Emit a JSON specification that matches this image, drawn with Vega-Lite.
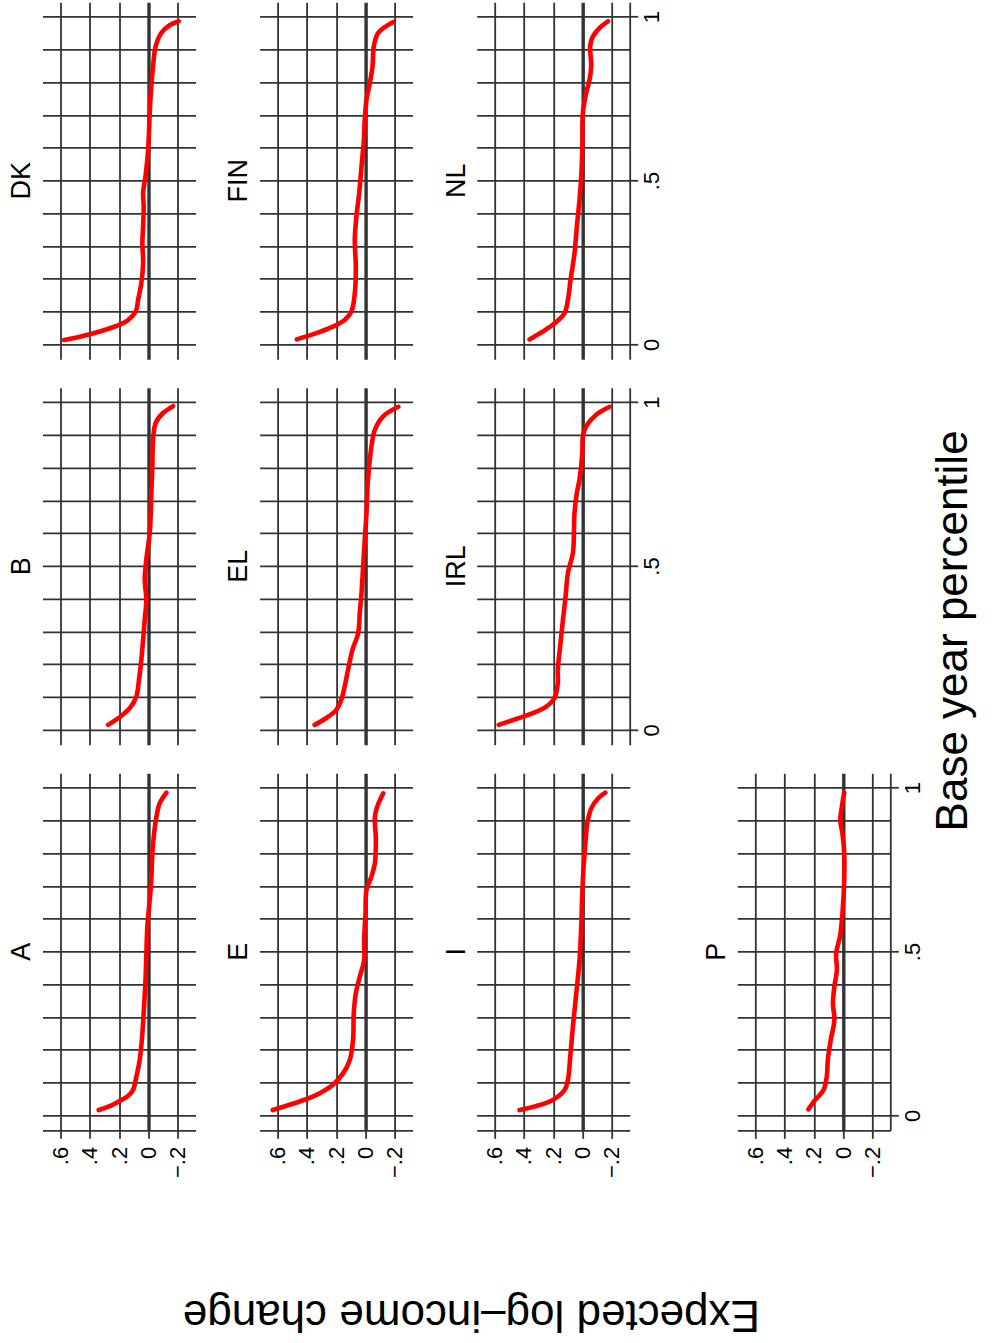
{
"$schema": "https://vega.github.io/schema/vega-lite/v6.json",
"padding": {"left": 7.5, "top": 2.3, "right": 0, "bottom": 0},
"background": "white",
"data": {"values": [
{"c":"A","p":0.016,"v":0.339},{"c":"A","p":0.028,"v":0.264},{"c":"A","p":0.044,"v":0.195},{"c":"A","p":0.059,"v":0.139},{"c":"A","p":0.077,"v":0.105},{"c":"A","p":0.118,"v":0.082},{"c":"A","p":0.169,"v":0.059},{"c":"A","p":0.25,"v":0.041},{"c":"A","p":0.33,"v":0.03},{"c":"A","p":0.41,"v":0.02},{"c":"A","p":0.49,"v":0.014},{"c":"A","p":0.576,"v":0.007},{"c":"A","p":0.657,"v":-0.009},{"c":"A","p":0.72,"v":-0.02},{"c":"A","p":0.8,"v":-0.027},{"c":"A","p":0.86,"v":-0.039},{"c":"A","p":0.912,"v":-0.055},{"c":"A","p":0.952,"v":-0.077},{"c":"A","p":0.985,"v":-0.123},
{"c":"B","p":0.015,"v":0.275},{"c":"B","p":0.039,"v":0.195},{"c":"B","p":0.066,"v":0.127},{"c":"B","p":0.102,"v":0.082},{"c":"B","p":0.153,"v":0.064},{"c":"B","p":0.214,"v":0.048},{"c":"B","p":0.275,"v":0.036},{"c":"B","p":0.336,"v":0.025},{"c":"B","p":0.397,"v":0.014},{"c":"B","p":0.458,"v":0.025},{"c":"B","p":0.52,"v":0.014},{"c":"B","p":0.6,"v":-0.009},{"c":"B","p":0.66,"v":-0.016},{"c":"B","p":0.723,"v":-0.02},{"c":"B","p":0.805,"v":-0.027},{"c":"B","p":0.886,"v":-0.032},{"c":"B","p":0.937,"v":-0.05},{"c":"B","p":0.967,"v":-0.1},{"c":"B","p":0.988,"v":-0.168},
{"c":"DK","p":0.013,"v":0.575},{"c":"DK","p":0.023,"v":0.468},{"c":"DK","p":0.039,"v":0.332},{"c":"DK","p":0.056,"v":0.218},{"c":"DK","p":0.074,"v":0.139},{"c":"DK","p":0.1,"v":0.086},{"c":"DK","p":0.136,"v":0.07},{"c":"DK","p":0.187,"v":0.048},{"c":"DK","p":0.248,"v":0.036},{"c":"DK","p":0.309,"v":0.041},{"c":"DK","p":0.36,"v":0.036},{"c":"DK","p":0.421,"v":0.032},{"c":"DK","p":0.462,"v":0.036},{"c":"DK","p":0.513,"v":0.02},{"c":"DK","p":0.564,"v":0.007},{"c":"DK","p":0.625,"v":-0.002},{"c":"DK","p":0.706,"v":-0.009},{"c":"DK","p":0.788,"v":-0.02},{"c":"DK","p":0.849,"v":-0.032},{"c":"DK","p":0.91,"v":-0.05},{"c":"DK","p":0.951,"v":-0.089},{"c":"DK","p":0.974,"v":-0.145},{"c":"DK","p":0.986,"v":-0.207},
{"c":"E","p":0.016,"v":0.633},{"c":"E","p":0.032,"v":0.519},{"c":"E","p":0.049,"v":0.405},{"c":"E","p":0.067,"v":0.313},{"c":"E","p":0.093,"v":0.222},{"c":"E","p":0.128,"v":0.153},{"c":"E","p":0.169,"v":0.107},{"c":"E","p":0.23,"v":0.085},{"c":"E","p":0.311,"v":0.08},{"c":"E","p":0.372,"v":0.066},{"c":"E","p":0.423,"v":0.039},{"c":"E","p":0.474,"v":0.009},{"c":"E","p":0.535,"v":0.009},{"c":"E","p":0.616,"v":0.0},{"c":"E","p":0.688,"v":-0.007},{"c":"E","p":0.729,"v":-0.041},{"c":"E","p":0.769,"v":-0.064},{"c":"E","p":0.84,"v":-0.071},{"c":"E","p":0.911,"v":-0.064},{"c":"E","p":0.942,"v":-0.08},{"c":"E","p":0.983,"v":-0.121},
{"c":"EL","p":0.015,"v":0.347},{"c":"EL","p":0.036,"v":0.267},{"c":"EL","p":0.061,"v":0.199},{"c":"EL","p":0.092,"v":0.165},{"c":"EL","p":0.132,"v":0.142},{"c":"EL","p":0.183,"v":0.119},{"c":"EL","p":0.244,"v":0.089},{"c":"EL","p":0.295,"v":0.05},{"c":"EL","p":0.356,"v":0.039},{"c":"EL","p":0.418,"v":0.027},{"c":"EL","p":0.499,"v":0.016},{"c":"EL","p":0.58,"v":0.005},{"c":"EL","p":0.662,"v":-0.007},{"c":"EL","p":0.743,"v":-0.014},{"c":"EL","p":0.805,"v":-0.025},{"c":"EL","p":0.866,"v":-0.041},{"c":"EL","p":0.916,"v":-0.064},{"c":"EL","p":0.957,"v":-0.121},{"c":"EL","p":0.986,"v":-0.224},
{"c":"FIN","p":0.015,"v":0.469},{"c":"FIN","p":0.034,"v":0.336},{"c":"FIN","p":0.054,"v":0.222},{"c":"FIN","p":0.074,"v":0.142},{"c":"FIN","p":0.1,"v":0.096},{"c":"FIN","p":0.156,"v":0.073},{"c":"FIN","p":0.238,"v":0.066},{"c":"FIN","p":0.319,"v":0.073},{"c":"FIN","p":0.39,"v":0.062},{"c":"FIN","p":0.462,"v":0.043},{"c":"FIN","p":0.543,"v":0.027},{"c":"FIN","p":0.625,"v":0.011},{"c":"FIN","p":0.686,"v":0.005},{"c":"FIN","p":0.747,"v":-0.007},{"c":"FIN","p":0.798,"v":-0.03},{"c":"FIN","p":0.849,"v":-0.048},{"c":"FIN","p":0.91,"v":-0.057},{"c":"FIN","p":0.951,"v":-0.087},{"c":"FIN","p":0.984,"v":-0.19},
{"c":"I","p":0.016,"v":0.431},{"c":"I","p":0.028,"v":0.317},{"c":"I","p":0.047,"v":0.203},{"c":"I","p":0.077,"v":0.123},{"c":"I","p":0.108,"v":0.1},{"c":"I","p":0.179,"v":0.084},{"c":"I","p":0.271,"v":0.066},{"c":"I","p":0.372,"v":0.043},{"c":"I","p":0.474,"v":0.021},{"c":"I","p":0.576,"v":0.009},{"c":"I","p":0.678,"v":0.002},{"c":"I","p":0.759,"v":-0.007},{"c":"I","p":0.84,"v":-0.021},{"c":"I","p":0.891,"v":-0.032},{"c":"I","p":0.937,"v":-0.059},{"c":"I","p":0.967,"v":-0.105},{"c":"I","p":0.985,"v":-0.155},
{"c":"IRL","p":0.015,"v":0.572},{"c":"IRL","p":0.033,"v":0.453},{"c":"IRL","p":0.051,"v":0.339},{"c":"IRL","p":0.071,"v":0.248},{"c":"IRL","p":0.097,"v":0.191},{"c":"IRL","p":0.143,"v":0.169},{"c":"IRL","p":0.183,"v":0.169},{"c":"IRL","p":0.255,"v":0.153},{"c":"IRL","p":0.336,"v":0.134},{"c":"IRL","p":0.407,"v":0.116},{"c":"IRL","p":0.479,"v":0.1},{"c":"IRL","p":0.54,"v":0.066},{"c":"IRL","p":0.601,"v":0.059},{"c":"IRL","p":0.662,"v":0.055},{"c":"IRL","p":0.723,"v":0.039},{"c":"IRL","p":0.764,"v":0.021},{"c":"IRL","p":0.845,"v":0.002},{"c":"IRL","p":0.896,"v":-0.002},{"c":"IRL","p":0.927,"v":-0.025},{"c":"IRL","p":0.962,"v":-0.093},{"c":"IRL","p":0.986,"v":-0.185},
{"c":"NL","p":0.015,"v":0.362},{"c":"NL","p":0.039,"v":0.271},{"c":"NL","p":0.064,"v":0.191},{"c":"NL","p":0.095,"v":0.123},{"c":"NL","p":0.136,"v":0.1},{"c":"NL","p":0.197,"v":0.082},{"c":"NL","p":0.278,"v":0.055},{"c":"NL","p":0.36,"v":0.039},{"c":"NL","p":0.441,"v":0.021},{"c":"NL","p":0.513,"v":0.009},{"c":"NL","p":0.594,"v":0.002},{"c":"NL","p":0.706,"v":-0.002},{"c":"NL","p":0.768,"v":-0.025},{"c":"NL","p":0.808,"v":-0.048},{"c":"NL","p":0.849,"v":-0.059},{"c":"NL","p":0.91,"v":-0.052},{"c":"NL","p":0.936,"v":-0.066},{"c":"NL","p":0.966,"v":-0.116},{"c":"NL","p":0.986,"v":-0.173},
{"c":"P","p":0.018,"v":0.237},{"c":"P","p":0.047,"v":0.191},{"c":"P","p":0.077,"v":0.134},{"c":"P","p":0.118,"v":0.112},{"c":"P","p":0.169,"v":0.105},{"c":"P","p":0.23,"v":0.085},{"c":"P","p":0.291,"v":0.06},{"c":"P","p":0.342,"v":0.07},{"c":"P","p":0.393,"v":0.06},{"c":"P","p":0.443,"v":0.043},{"c":"P","p":0.494,"v":0.048},{"c":"P","p":0.548,"v":0.021},{"c":"P","p":0.616,"v":0.005},{"c":"P","p":0.718,"v":-0.007},{"c":"P","p":0.8,"v":-0.007},{"c":"P","p":0.86,"v":0.005},{"c":"P","p":0.901,"v":0.02},{"c":"P","p":0.942,"v":0.009},{"c":"P","p":0.985,"v":-0.007}
]},
"title": {"text": "Expected log\u2013income change", "orient": "bottom", "angle": 180, "baseline": "bottom", "anchor": "start", "align": "right", "fontSize": 44, "offset": 115, "dx": -174.5},
"vconcat": [
{
"title": {"text": "Base year percentile", "orient": "right", "angle": 270, "baseline": "top", "anchor": "middle", "fontSize": 44, "offset": -35, "dx": -41},
"spacing": 28.5,
"vconcat": [
{"spacing": 29.1, "hconcat": [
 {"title": {"text": "DK", "orient": "left", "angle": 270, "baseline": "bottom", "anchor": "middle", "fontSize": 27, "offset": -20.8},
  "width": 153, "height": 357, "transform": [{"filter": "datum.c === 'DK'"}],
  "mark": {"type": "line", "color": "#ff0000", "strokeWidth": 4.6, "strokeCap": "round", "strokeJoin": "round", "interpolate": "catmull-rom"},
  "encoding": {
   "x": {"field": "v", "type": "quantitative", "scale": {"domain": [-0.3215, 0.7225], "reverse": true, "nice": false, "zero": false},
     "axis": {"values": [-0.2, 0, 0.2, 0.4, 0.6], "title": null, "labels": false, "ticks": false, "domain": false, "gridWidth": {"condition": {"test": "datum.value === 0", "value": 3.4}, "value": 1.8}}},
   "y": {"field": "p", "type": "quantitative", "scale": {"domain": [-0.0458, 1.044], "nice": false, "zero": false},
     "axis": {"values": [0, 0.1, 0.2, 0.3, 0.4, 0.5, 0.6, 0.7, 0.8, 0.9, 1], "title": null, "labels": false, "ticks": false, "domain": false, "minExtent": 0}},
   "order": {"field": "p", "type": "quantitative"}}},
 {"title": {"text": "FIN", "orient": "left", "angle": 270, "baseline": "bottom", "anchor": "middle", "fontSize": 27, "offset": -20.8},
  "width": 153, "height": 357, "transform": [{"filter": "datum.c === 'FIN'"}],
  "mark": {"type": "line", "color": "#ff0000", "strokeWidth": 4.6, "strokeCap": "round", "strokeJoin": "round", "interpolate": "catmull-rom"},
  "encoding": {
   "x": {"field": "v", "type": "quantitative", "scale": {"domain": [-0.3215, 0.7225], "reverse": true, "nice": false, "zero": false},
     "axis": {"values": [-0.2, 0, 0.2, 0.4, 0.6], "title": null, "labels": false, "ticks": false, "domain": false, "gridWidth": {"condition": {"test": "datum.value === 0", "value": 3.4}, "value": 1.8}}},
   "y": {"field": "p", "type": "quantitative", "scale": {"domain": [-0.0458, 1.044], "nice": false, "zero": false},
     "axis": {"values": [0, 0.1, 0.2, 0.3, 0.4, 0.5, 0.6, 0.7, 0.8, 0.9, 1], "title": null, "labels": false, "ticks": false, "domain": false, "minExtent": 0}},
   "order": {"field": "p", "type": "quantitative"}}},
 {"title": {"text": "NL", "orient": "left", "angle": 270, "baseline": "bottom", "anchor": "middle", "fontSize": 27, "offset": -20.8},
  "width": 153, "height": 357, "transform": [{"filter": "datum.c === 'NL'"}],
  "mark": {"type": "line", "color": "#ff0000", "strokeWidth": 4.6, "strokeCap": "round", "strokeJoin": "round", "interpolate": "catmull-rom"},
  "encoding": {
   "x": {"field": "v", "type": "quantitative", "scale": {"domain": [-0.3215, 0.7225], "reverse": true, "nice": false, "zero": false},
     "axis": {"values": [-0.2, 0, 0.2, 0.4, 0.6], "title": null, "labels": false, "ticks": false, "domain": false, "gridWidth": {"condition": {"test": "datum.value === 0", "value": 3.4}, "value": 1.8}}},
   "y": {"field": "p", "type": "quantitative", "scale": {"domain": [-0.0458, 1.044], "nice": false, "zero": false},
     "axis": {"orient": "right", "values": [0, 0.1, 0.2, 0.3, 0.4, 0.5, 0.6, 0.7, 0.8, 0.9, 1], "title": null, "minExtent": 0,
       "labelExpr": "datum.value === 0 ? '0' : datum.value === 0.5 ? '.5' : datum.value === 1 ? '1' : ''",
       "labelAngle": 270, "labelAlign": "center", "labelBaseline": "top", "labelPadding": 4,
       "tickOpacity": {"condition": {"test": "datum.value === 0 || datum.value === 0.5 || datum.value === 1", "value": 1}, "value": 0}}},
   "order": {"field": "p", "type": "quantitative"}}}
]},
{"spacing": 29.1, "hconcat": [
 {"title": {"text": "B", "orient": "left", "angle": 270, "baseline": "bottom", "anchor": "middle", "fontSize": 27, "offset": -20.8},
  "width": 153, "height": 357, "transform": [{"filter": "datum.c === 'B'"}],
  "mark": {"type": "line", "color": "#ff0000", "strokeWidth": 4.6, "strokeCap": "round", "strokeJoin": "round", "interpolate": "catmull-rom"},
  "encoding": {
   "x": {"field": "v", "type": "quantitative", "scale": {"domain": [-0.3215, 0.7225], "reverse": true, "nice": false, "zero": false},
     "axis": {"values": [-0.2, 0, 0.2, 0.4, 0.6], "title": null, "labels": false, "ticks": false, "domain": false, "gridWidth": {"condition": {"test": "datum.value === 0", "value": 3.4}, "value": 1.8}}},
   "y": {"field": "p", "type": "quantitative", "scale": {"domain": [-0.0458, 1.044], "nice": false, "zero": false},
     "axis": {"values": [0, 0.1, 0.2, 0.3, 0.4, 0.5, 0.6, 0.7, 0.8, 0.9, 1], "title": null, "labels": false, "ticks": false, "domain": false, "minExtent": 0}},
   "order": {"field": "p", "type": "quantitative"}}},
 {"title": {"text": "EL", "orient": "left", "angle": 270, "baseline": "bottom", "anchor": "middle", "fontSize": 27, "offset": -20.8},
  "width": 153, "height": 357, "transform": [{"filter": "datum.c === 'EL'"}],
  "mark": {"type": "line", "color": "#ff0000", "strokeWidth": 4.6, "strokeCap": "round", "strokeJoin": "round", "interpolate": "catmull-rom"},
  "encoding": {
   "x": {"field": "v", "type": "quantitative", "scale": {"domain": [-0.3215, 0.7225], "reverse": true, "nice": false, "zero": false},
     "axis": {"values": [-0.2, 0, 0.2, 0.4, 0.6], "title": null, "labels": false, "ticks": false, "domain": false, "gridWidth": {"condition": {"test": "datum.value === 0", "value": 3.4}, "value": 1.8}}},
   "y": {"field": "p", "type": "quantitative", "scale": {"domain": [-0.0458, 1.044], "nice": false, "zero": false},
     "axis": {"values": [0, 0.1, 0.2, 0.3, 0.4, 0.5, 0.6, 0.7, 0.8, 0.9, 1], "title": null, "labels": false, "ticks": false, "domain": false, "minExtent": 0}},
   "order": {"field": "p", "type": "quantitative"}}},
 {"title": {"text": "IRL", "orient": "left", "angle": 270, "baseline": "bottom", "anchor": "middle", "fontSize": 27, "offset": -20.8},
  "width": 153, "height": 357, "transform": [{"filter": "datum.c === 'IRL'"}],
  "mark": {"type": "line", "color": "#ff0000", "strokeWidth": 4.6, "strokeCap": "round", "strokeJoin": "round", "interpolate": "catmull-rom"},
  "encoding": {
   "x": {"field": "v", "type": "quantitative", "scale": {"domain": [-0.3215, 0.7225], "reverse": true, "nice": false, "zero": false},
     "axis": {"values": [-0.2, 0, 0.2, 0.4, 0.6], "title": null, "labels": false, "ticks": false, "domain": false, "gridWidth": {"condition": {"test": "datum.value === 0", "value": 3.4}, "value": 1.8}}},
   "y": {"field": "p", "type": "quantitative", "scale": {"domain": [-0.0458, 1.044], "nice": false, "zero": false},
     "axis": {"orient": "right", "values": [0, 0.1, 0.2, 0.3, 0.4, 0.5, 0.6, 0.7, 0.8, 0.9, 1], "title": null, "minExtent": 0,
       "labelExpr": "datum.value === 0 ? '0' : datum.value === 0.5 ? '.5' : datum.value === 1 ? '1' : ''",
       "labelAngle": 270, "labelAlign": "center", "labelBaseline": "top", "labelPadding": 4,
       "tickOpacity": {"condition": {"test": "datum.value === 0 || datum.value === 0.5 || datum.value === 1", "value": 1}, "value": 0}}},
   "order": {"field": "p", "type": "quantitative"}}}
]},
{"spacing": 71.8, "hconcat": [
 {"spacing": 29.1, "hconcat": [
 {"title": {"text": "A", "orient": "left", "angle": 270, "baseline": "bottom", "anchor": "middle", "fontSize": 27, "offset": -20.8},
  "width": 153, "height": 357, "transform": [{"filter": "datum.c === 'A'"}],
  "mark": {"type": "line", "color": "#ff0000", "strokeWidth": 4.6, "strokeCap": "round", "strokeJoin": "round", "interpolate": "catmull-rom"},
  "encoding": {
   "x": {"field": "v", "type": "quantitative", "scale": {"domain": [-0.3215, 0.7225], "reverse": true, "nice": false, "zero": false},
     "axis": {"values": [-0.2, 0, 0.2, 0.4, 0.6], "title": null, "gridWidth": {"condition": {"test": "datum.value === 0", "value": 3.4}, "value": 1.8},
       "labelExpr": "datum.value === 0.6 ? '.6' : datum.value === 0.4 ? '.4' : datum.value === 0.2 ? '.2' : datum.value === 0 ? '0' : '\u2212.2'",
       "labelAngle": 270, "labelAlign": "right", "labelBaseline": "middle", "labelPadding": 8, "labelFlush": false}},
   "y": {"field": "p", "type": "quantitative", "scale": {"domain": [-0.0458, 1.044], "nice": false, "zero": false},
     "axis": {"values": [0, 0.1, 0.2, 0.3, 0.4, 0.5, 0.6, 0.7, 0.8, 0.9, 1], "title": null, "labels": false, "ticks": false, "domain": false, "minExtent": 0}},
   "order": {"field": "p", "type": "quantitative"}}},
 {"title": {"text": "E", "orient": "left", "angle": 270, "baseline": "bottom", "anchor": "middle", "fontSize": 27, "offset": -20.8},
  "width": 153, "height": 357, "transform": [{"filter": "datum.c === 'E'"}],
  "mark": {"type": "line", "color": "#ff0000", "strokeWidth": 4.6, "strokeCap": "round", "strokeJoin": "round", "interpolate": "catmull-rom"},
  "encoding": {
   "x": {"field": "v", "type": "quantitative", "scale": {"domain": [-0.3215, 0.7225], "reverse": true, "nice": false, "zero": false},
     "axis": {"values": [-0.2, 0, 0.2, 0.4, 0.6], "title": null, "gridWidth": {"condition": {"test": "datum.value === 0", "value": 3.4}, "value": 1.8},
       "labelExpr": "datum.value === 0.6 ? '.6' : datum.value === 0.4 ? '.4' : datum.value === 0.2 ? '.2' : datum.value === 0 ? '0' : '\u2212.2'",
       "labelAngle": 270, "labelAlign": "right", "labelBaseline": "middle", "labelPadding": 8, "labelFlush": false}},
   "y": {"field": "p", "type": "quantitative", "scale": {"domain": [-0.0458, 1.044], "nice": false, "zero": false},
     "axis": {"values": [0, 0.1, 0.2, 0.3, 0.4, 0.5, 0.6, 0.7, 0.8, 0.9, 1], "title": null, "labels": false, "ticks": false, "domain": false, "minExtent": 0}},
   "order": {"field": "p", "type": "quantitative"}}},
 {"title": {"text": "I", "orient": "left", "angle": 270, "baseline": "bottom", "anchor": "middle", "fontSize": 27, "offset": -20.8},
  "width": 153, "height": 357, "transform": [{"filter": "datum.c === 'I'"}],
  "mark": {"type": "line", "color": "#ff0000", "strokeWidth": 4.6, "strokeCap": "round", "strokeJoin": "round", "interpolate": "catmull-rom"},
  "encoding": {
   "x": {"field": "v", "type": "quantitative", "scale": {"domain": [-0.3215, 0.7225], "reverse": true, "nice": false, "zero": false},
     "axis": {"values": [-0.2, 0, 0.2, 0.4, 0.6], "title": null, "gridWidth": {"condition": {"test": "datum.value === 0", "value": 3.4}, "value": 1.8},
       "labelExpr": "datum.value === 0.6 ? '.6' : datum.value === 0.4 ? '.4' : datum.value === 0.2 ? '.2' : datum.value === 0 ? '0' : '\u2212.2'",
       "labelAngle": 270, "labelAlign": "right", "labelBaseline": "middle", "labelPadding": 8, "labelFlush": false}},
   "y": {"field": "p", "type": "quantitative", "scale": {"domain": [-0.0458, 1.044], "nice": false, "zero": false},
     "axis": {"values": [0, 0.1, 0.2, 0.3, 0.4, 0.5, 0.6, 0.7, 0.8, 0.9, 1], "title": null, "labels": false, "ticks": false, "domain": false, "minExtent": 0}},
   "order": {"field": "p", "type": "quantitative"}}}
 ]},
 {"title": {"text": "P", "orient": "left", "angle": 270, "baseline": "bottom", "anchor": "middle", "fontSize": 27, "offset": -20.8},
  "width": 153, "height": 357, "transform": [{"filter": "datum.c === 'P'"}],
  "mark": {"type": "line", "color": "#ff0000", "strokeWidth": 4.6, "strokeCap": "round", "strokeJoin": "round", "interpolate": "catmull-rom"},
  "encoding": {
   "x": {"field": "v", "type": "quantitative", "scale": {"domain": [-0.3215, 0.7225], "reverse": true, "nice": false, "zero": false},
     "axis": {"values": [-0.2, 0, 0.2, 0.4, 0.6], "title": null, "gridWidth": {"condition": {"test": "datum.value === 0", "value": 3.4}, "value": 1.8},
       "labelExpr": "datum.value === 0.6 ? '.6' : datum.value === 0.4 ? '.4' : datum.value === 0.2 ? '.2' : datum.value === 0 ? '0' : '\u2212.2'",
       "labelAngle": 270, "labelAlign": "right", "labelBaseline": "middle", "labelPadding": 8, "labelFlush": false}},
   "y": {"field": "p", "type": "quantitative", "scale": {"domain": [-0.0458, 1.044], "nice": false, "zero": false},
     "axis": {"orient": "right", "values": [0, 0.1, 0.2, 0.3, 0.4, 0.5, 0.6, 0.7, 0.8, 0.9, 1], "title": null, "minExtent": 0,
       "labelExpr": "datum.value === 0 ? '0' : datum.value === 0.5 ? '.5' : datum.value === 1 ? '1' : ''",
       "labelAngle": 270, "labelAlign": "center", "labelBaseline": "top", "labelPadding": 4,
       "tickOpacity": {"condition": {"test": "datum.value === 0 || datum.value === 0.5 || datum.value === 1", "value": 1}, "value": 0}}},
   "order": {"field": "p", "type": "quantitative"}}}
]}
]
}
],
"config": {
 "view": {"stroke": null},
 "axis": {"grid": true, "gridColor": "#333333", "gridWidth": 1.8, "gridOpacity": 1, "domainColor": "#333333", "domainWidth": 1.8, "tickColor": "#333333", "tickWidth": 1.8, "tickSize": 8, "labelFont": "Liberation Sans", "labelFontSize": 22, "labelColor": "#000000", "minExtent": 0},
 "axisY": {"minExtent": 0},
 "title": {"font": "Liberation Sans", "fontWeight": "normal", "color": "#000000"}
}
}
